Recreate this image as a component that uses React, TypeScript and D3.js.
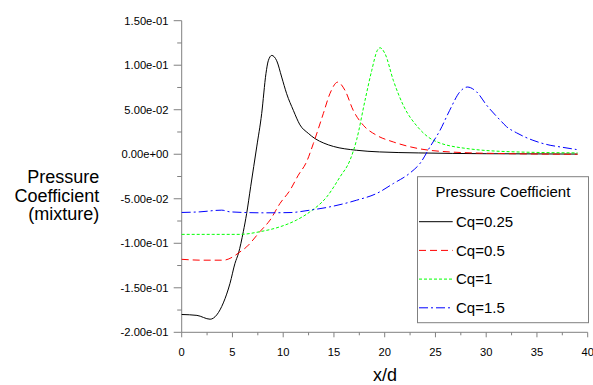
import React from "react";
import * as d3 from "d3";

const seriesNames = ["Cq=0.25", "Cq=0.5", "Cq=1", "Cq=1.5"];
const seriesColors = ["#000000", "#ff0000", "#00ff00", "#0000ff"];
const seriesDash = ["", "7,4", "3,2", "9,3,2,3"];

const xBlack = [0, 1.5, 2.8, 3.45, 4.1, 4.76, 5.25, 5.6, 6.07, 6.4, 6.8, 7.39, 7.88, 8.3, 8.53, 8.87, 9.36, 9.85, 10.34, 11, 11.65, 12.47, 13.13, 14, 14.94, 17.2, 19.5, 23.3, 30, 39];
const yBlack = [-0.18, -0.181, -0.1853, -0.1805, -0.167, -0.145, -0.1225, -0.111, -0.087, -0.0665, -0.036, 0.0082, 0.0456, 0.0905, 0.105, 0.111, 0.105, 0.0867, 0.068, 0.0493, 0.033, 0.0235, 0.0176, 0.0125, 0.0088, 0.0045, 0.0026, 0.0015, 0.0006, 0.0002];

const xRed = [0, 2, 4.1, 5.08, 5.58, 6.4, 7.7, 8.7, 9.68, 10.67, 11.49, 12.3, 12.97, 13.95, 14.6, 15.37, 16.09, 16.9, 17.9, 19.2, 20.85, 23.3, 26.4, 31.4, 39];
const yRed = [-0.118, -0.119, -0.119, -0.115, -0.111, -0.104, -0.087, -0.074, -0.0553, -0.0404, -0.0235, -0.0086, 0.012, 0.0456, 0.068, 0.081, 0.0717, 0.0493, 0.0325, 0.0213, 0.0138, 0.0064, 0.0026, 0.0008, 0.0];

const xGreen = [0, 3, 5.75, 7.7, 9.68, 11.3, 12.6, 14.29, 15.6, 16.58, 17.24, 18.06, 18.72, 19.27, 19.54, 20.03, 20.85, 21.83, 23.3, 24.8, 28.1, 33, 39];
const yGreen = [-0.09, -0.09, -0.09, -0.087, -0.0815, -0.074, -0.065, -0.0479, -0.0254, -0.0067, 0.0165, 0.0605, 0.094, 0.1166, 0.1196, 0.113, 0.083, 0.055, 0.03, 0.0157, 0.0064, 0.0026, 0.0015];

const xBlue = [0, 1.8, 3.94, 4.76, 8.04, 10.67, 12.64, 14.6, 17.24, 19.2, 20.85, 22.5, 23.5, 24.46, 25.45, 26.4, 27.4, 28.14, 29.06, 30.05, 31.4, 32, 33, 34.6, 36.3, 37.3, 38.9];
const yBlue = [-0.0654, -0.0647, -0.0628, -0.0647, -0.0658, -0.0655, -0.0628, -0.0591, -0.0516, -0.0441, -0.0329, -0.021, -0.01, 0.0082, 0.0269, 0.0493, 0.07, 0.0755, 0.07, 0.055, 0.038, 0.031, 0.024, 0.0157, 0.0101, 0.0082, 0.0053];

const seriesX = [xBlack, xRed, xGreen, xBlue];
const seriesY = [yBlack, yRed, yGreen, yBlue];

const xTicks = [0, 5, 10, 15, 20, 25, 30, 35, 40];
const yTicks = [0.15, 0.1, 0.05, 0, -0.05, -0.1, -0.15, -0.2];
const yTickLabels = ["1.50e-01", "1.00e-01", "5.00e-02", "0.00e+00", "-5.00e-02", "-1.00e-01", "-1.50e-01", "-2.00e-01"];
const yTitleLines = ["Pressure", "Coefficient", "(mixture)"];
const xTitle = "x/d";
const legendTitle = "Pressure Coefficient";

const FONT = "'Liberation Sans', Arial, sans-serif";

export default function App() {
  const W = 593, H = 385;
  const x = d3.scaleLinear().domain([0, 40]).range([181.7, 587.7]);
  const y = d3.scaleLinear().domain([-0.2, 0.15]).range([332.3, 20.7]);
  const line = d3.line<[number, number]>()
    .x(d => x(d[0]))
    .y(d => y(d[1]))
    .curve(d3.curveMonotoneX);
  const axisColor = "#808080";
  const xMinor = d3.range(2.5, 40, 5);
  const yMinor = d3.range(-0.175, 0.15, 0.05);

  const legX = 417.5, legY = 176.7, legW = 171, legH = 146;
  const entryY0 = 221.7, entryDy = 28.7;

  return (
    <div style={{ position: "fixed", left: 0, top: 0 }}>
      <svg width={W} height={H} style={{ display: "block", background: "#fff" }}>
        <rect x={0} y={0} width={W} height={H} fill="#fff" />
        <line x1={x(0)} x2={x(0)} y1={y(0.15)} y2={y(-0.2)} stroke={axisColor} strokeWidth={1} />
        <line x1={x(0)} x2={x(40)} y1={y(-0.2)} y2={y(-0.2)} stroke={axisColor} strokeWidth={1} />
        {yTicks.map((t, i) => (
          <g key={"yt" + i}>
            <line x1={x(0) - 8} x2={x(0)} y1={y(t)} y2={y(t)} stroke={axisColor} />
            <text x={168.5} y={y(t)} dy="0.36em" textAnchor="end" fontFamily={FONT} fontSize={11.2} fill="#000">
              {yTickLabels[i]}
            </text>
          </g>
        ))}
        {yMinor.map((t, i) => (
          <line key={"ym" + i} x1={x(0) - 4.5} x2={x(0)} y1={y(t)} y2={y(t)} stroke={axisColor} />
        ))}
        {xTicks.map((t, i) => (
          <g key={"xt" + i}>
            <line x1={x(t)} x2={x(t)} y1={y(-0.2)} y2={y(-0.2) + 5} stroke={axisColor} />
            <text x={x(t)} y={356} textAnchor="middle" fontFamily={FONT} fontSize={11.2} fill="#000">
              {t}
            </text>
          </g>
        ))}
        {xMinor.map((t, i) => (
          <line key={"xm" + i} x1={x(t)} x2={x(t)} y1={y(-0.2)} y2={y(-0.2) + 3} stroke={axisColor} />
        ))}
        {yTitleLines.map((s, i) => (
          <text key={"ytl" + i} x={99.3} y={183 + i * 18.5} textAnchor="end" fontFamily={FONT} fontSize={18} fill="#000">
            {s}
          </text>
        ))}
        <text x={385} y={381} textAnchor="middle" fontFamily={FONT} fontSize={18} fill="#000">{xTitle}</text>
        {seriesX.map((xs, si) => {
          const pts = xs.map((v, j) => [v, seriesY[si][j]] as [number, number]);
          return (
            <path key={"s" + si} d={line(pts) || ""} fill="none" stroke={seriesColors[si]} strokeWidth={1}
              strokeDasharray={seriesDash[si] || undefined} />
          );
        })}
        <rect x={legX} y={legY} width={legW} height={legH} fill="#fff" stroke={axisColor} strokeWidth={1} />
        <text x={legX + legW / 2} y={196.7} textAnchor="middle" fontFamily={FONT} fontSize={15} fill="#000">{legendTitle}</text>
        {seriesNames.map((n, i) => (
          <g key={"lg" + i}>
            <line x1={419} x2={452.7} y1={entryY0 + i * entryDy} y2={entryY0 + i * entryDy}
              stroke={seriesColors[i]} strokeWidth={1} strokeDasharray={seriesDash[i] || undefined} />
            <text x={456} y={entryY0 + i * entryDy} dy="0.35em" fontFamily={FONT} fontSize={15} fill="#000">{n}</text>
          </g>
        ))}
      </svg>
    </div>
  );
}
